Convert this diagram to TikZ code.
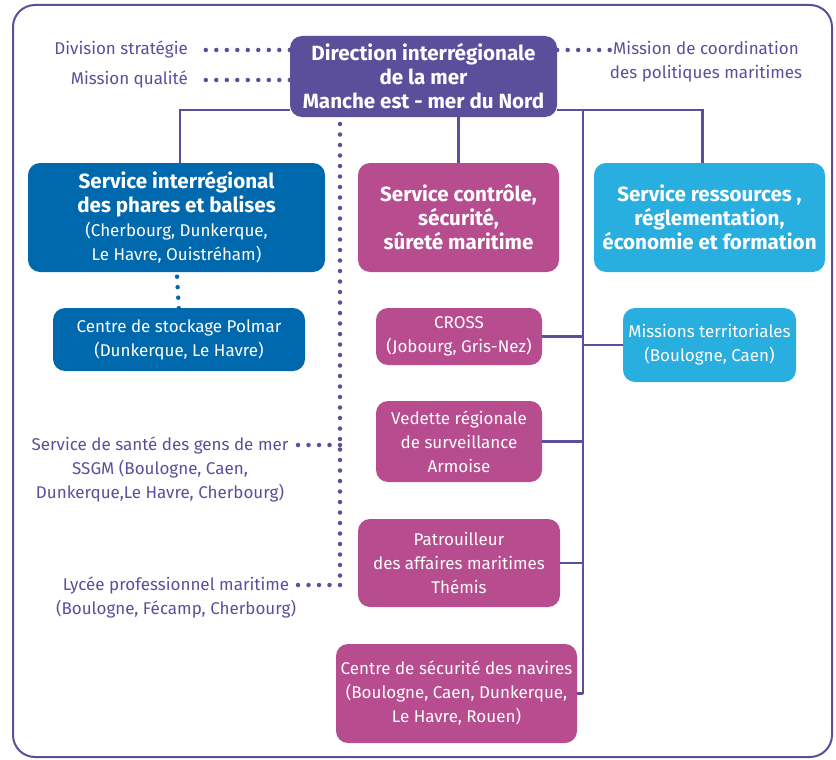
\documentclass[tikz,border=0pt]{standalone}
\usepackage{fontspec}
\setmainfont{Fira Sans}
\definecolor{cpurple}{RGB}{91,79,155}
\definecolor{cdblue}{RGB}{0,104,173}
\definecolor{cmag}{RGB}{183,76,142}
\definecolor{ccyan}{RGB}{41,174,224}
\newcommand{\bigb}{\fontsize{20.6}{24}\selectfont\bfseries}
\newcommand{\smallr}{\fontsize{17}{24}\selectfont\mdseries}
\tikzset{
  box/.style={rounded corners=12pt, inner sep=0pt, align=center, text=white, font=\smallr},
  conn/.style={draw=cpurple, line width=2.2pt},
  pdots/.style={draw=cpurple, line width=4.5pt, line cap=round, dash pattern=on 0pt off 10.5pt},
  bdots/.style={draw=cdblue, line width=4.5pt, line cap=round, dash pattern=on 0pt off 10.5pt},
  lbl/.style={text=cpurple, inner sep=0pt, align=center, font=\smallr}
}
\begin{document}
\begin{tikzpicture}[x=1pt,y=-1pt]
\useasboundingbox (0,0) rectangle (836,760);
\draw[cpurple, line width=2pt, rounded corners=22pt] (13,5) rectangle (832,757);

% boxes
\node[box, fill=cpurple, minimum width=267pt, minimum height=81pt, font=\bigb] (dir) at (423.5,76.5)
  {Direction interrégionale\\ de la mer\\ Manche est - mer du Nord};
\node[box, fill=cdblue, minimum width=297pt, minimum height=109pt, font=\bigb] (sipb) at (176.5,217.5)
  {Service interrégional\\ des phares et balises\\ \smallr (Cherbourg, Dunkerque,\\ \smallr Le Havre, Ouistréham)};
\node[box, fill=cdblue, minimum width=252pt, minimum height=63pt] (polmar) at (179,339.5)
  {Centre de stockage Polmar\\ (Dunkerque, Le Havre)};
\node[box, fill=cmag, minimum width=201pt, minimum height=109pt, font=\bigb] (ctrl) at (458.5,217.5)
  {Service contrôle,\\ sécurité,\\ sûreté maritime};
\node[box, fill=ccyan, minimum width=231pt, minimum height=109pt, font=\bigb] (res) at (709.5,217.5)
  {Service ressources ,\\ réglementation,\\ économie et formation};
\node[box, fill=cmag, minimum width=166pt, minimum height=57pt] (cross) at (459,336.5)
  {CROSS\\ (Jobourg, Gris-Nez)};
\node[box, fill=ccyan, minimum width=173pt, minimum height=74pt] (mt) at (709.5,345)
  {Missions territoriales\\ (Boulogne, Caen)};
\node[box, fill=cmag, minimum width=166pt, minimum height=81pt] (ved) at (459,441.5)
  {Vedette régionale\\ de surveillance\\ Armoise};
\node[box, fill=cmag, minimum width=202pt, minimum height=88pt] (pat) at (459,563)
  {Patrouilleur\\ des affaires maritimes\\ Thémis};
\node[box, fill=cmag, minimum width=241pt, minimum height=99pt] (csn) at (456.5,693.5)
  {Centre de sécurité des navires\\ (Boulogne, Caen, Dunkerque,\\ Le Havre, Rouen)};

% labels
\node[lbl, anchor=east] (div) at (188,50) {Division stratégie};
\node[lbl, anchor=east] (mq) at (188,80) {Mission qualité};
\node[lbl] (mc) at (706,62) {Mission de coordination\\ des politiques maritimes};
\node[lbl] (ssgm) at (160,469) {Service de santé des gens de mer\\ SSGM (Boulogne, Caen,\\ Dunkerque,Le Havre, Cherbourg)};
\node[lbl] (lyc) at (176,597) {Lycée professionnel maritime\\ (Boulogne, Fécamp, Cherbourg)};

% solid connectors
\draw[conn] ([yshift=7pt]dir.south west) -| ([xshift=3.5pt]sipb.north);
\draw[conn] (dir.south -| ctrl.north) -- (ctrl.north);
\draw[conn] ([yshift=7pt]dir.south east) -| ([xshift=-7pt]res.north);
\coordinate (ttop) at (583,110);
\coordinate (tbot) at (583,694);
\draw[conn] (ttop) -- (tbot);
\draw[conn] (cross.east) -- (cross.east -| ttop);
\draw[conn] (mt.west) -- (mt.west -| ttop);
\draw[conn] (ved.east) -- (ved.east -| ttop);
\draw[conn] (pat.east) -- (pat.east -| ttop);
\draw[conn] (csn.east) -- (csn.east -| ttop);

% dotted connectors
\coordinate (dtop) at (340,124);
\coordinate (dbot) at (340,585);
\draw[pdots] (dtop) -- (dbot);
\coordinate (ss) at (298,445);
\coordinate (ly) at (298,585);
\draw[pdots] (dbot) -- (ly);
\draw[pdots] (ss -| dtop) -- (ss);
\draw[pdots] (dir.west |- div.east) -- ([xshift=12pt]div.east);
\draw[pdots] (dir.west |- mq.east) -- ([xshift=12pt]mq.east);
\coordinate (mcd) at (610,50);
\draw[pdots] (dir.east |- mcd) -- (mcd);
\draw[bdots] ([yshift=6pt]sipb.south) -- ([yshift=-5pt]polmar.north);
\end{tikzpicture}
\end{document}
